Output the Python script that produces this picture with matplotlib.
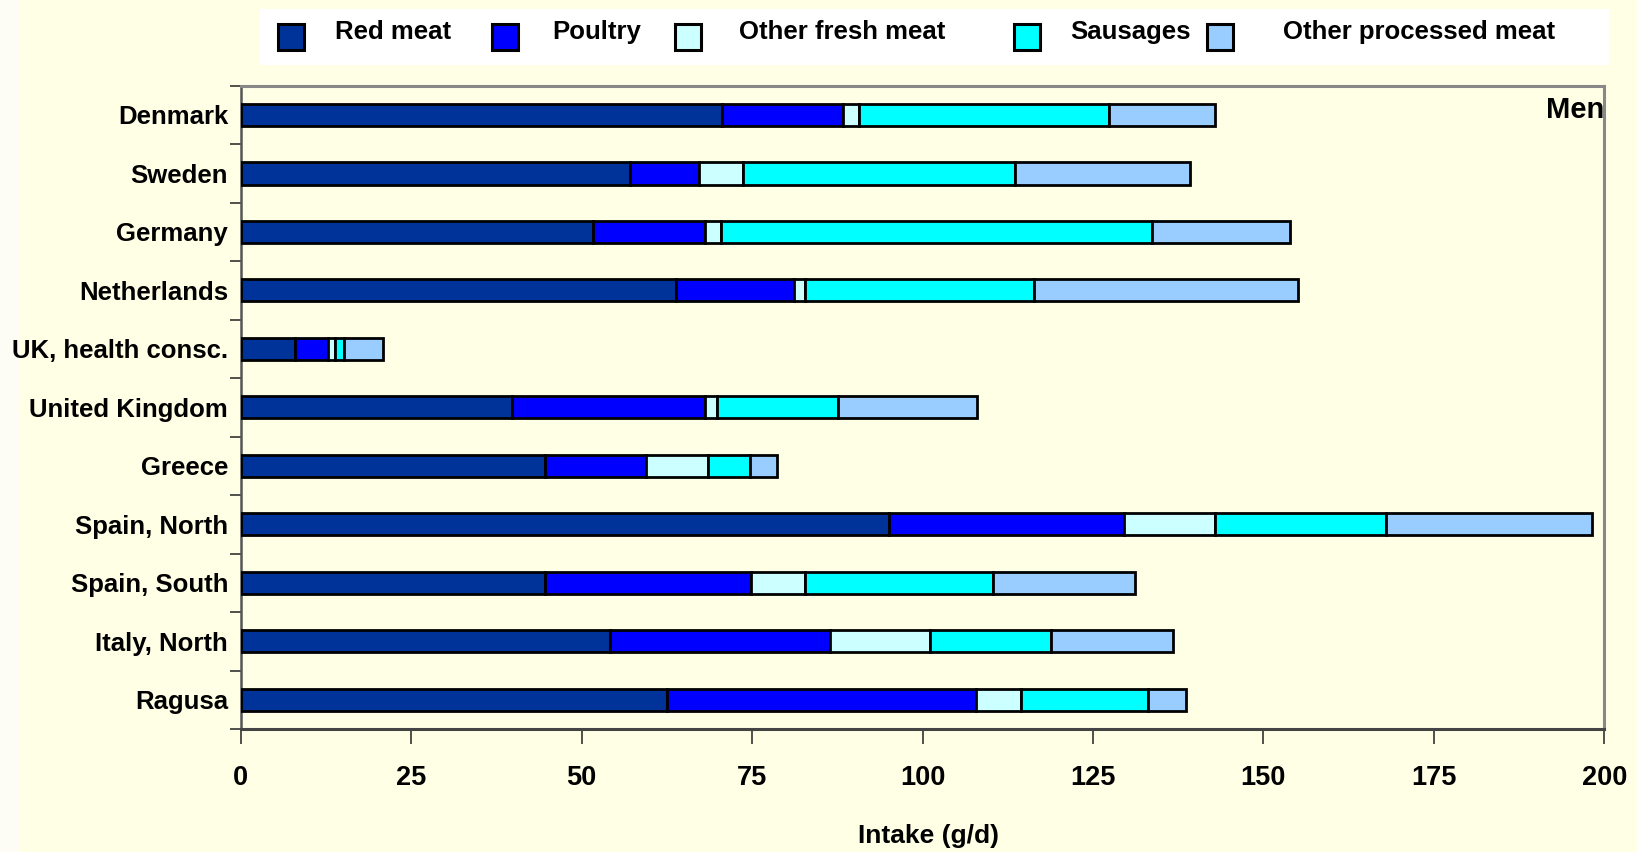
import numpy as np
import matplotlib
matplotlib.use("Agg")
import matplotlib.pyplot as plt
from matplotlib.patches import Rectangle
from matplotlib.ticker import FixedLocator

plt.rcParams['font.family'] = ['Liberation Sans', 'DejaVu Sans']
plt.rcParams['font.weight'] = 'bold'

countries = ["Denmark", "Sweden", "Germany", "Netherlands", "UK, health consc.",
             "United Kingdom", "Greece", "Spain, North", "Spain, South",
             "Italy, North", "Ragusa"]
categories = ["Red meat", "Poultry", "Other fresh meat", "Sausages", "Other processed meat"]

red_meat   = [70.6, 57.1, 51.6, 63.9, 7.9, 39.8, 44.7, 95.1, 44.7, 54.1, 62.5]
poultry    = [17.8, 10.1, 16.5, 17.3, 4.9, 28.3, 14.7, 34.5, 30.2, 32.4, 45.3]
other_fresh = [2.3, 6.5, 2.3, 1.6, 1.0, 1.7, 9.2, 13.3, 7.8, 14.6, 6.7]
sausages   = [36.7, 39.8, 63.3, 33.6, 1.4, 17.8, 6.1, 25.1, 27.6, 17.7, 18.6]
other_proc = [15.5, 25.7, 20.2, 38.7, 5.6, 20.4, 3.9, 30.2, 20.9, 18.0, 5.5]

xticks = [0, 25, 50, 75, 100, 125, 150, 175, 200]

colors = ["#003399", "#0000FF", "#CCFFFF", "#00FFFF", "#99CCFF"]
bg = "#FFFFE6"

W, H = 1637, 852
fig = plt.figure(figsize=(W / 100, H / 100), dpi=100, facecolor=bg)
# whitish strip on the left edge
fig.add_artist(Rectangle((0, 0), 19 / W, 1, transform=fig.transFigure,
                         facecolor="#FDFDF5", edgecolor="none", zorder=0))

ax = fig.add_axes([240.7 / W, 1 - 729 / H, (1604.3 - 240.7) / W, (729 - 85.7) / H])
ax.set_facecolor(bg)

y = np.arange(len(countries))
series = [red_meat, poultry, other_fresh, sausages, other_proc]
left = np.zeros(len(countries))
for vals, col in zip(series, colors):
    ax.barh(y, vals, left=left, height=0.38, color=col, edgecolor="black",
            linewidth=2.0, zorder=3)
    left += np.array(vals)

ax.set_xlim(0, 200)
ax.set_ylim(len(countries) - 0.5, -0.5)

ax.set_xticks(xticks)
ax.set_xticklabels([str(t) for t in xticks], fontsize=19.5, fontweight="bold")
ax.tick_params(axis="x", direction="out", length=11, width=1.2, color="#333333", pad=15)

ax.set_yticks(y)
ax.set_yticklabels(countries, fontsize=18.5, fontweight="bold")
ax.yaxis.set_minor_locator(FixedLocator(np.arange(-0.5, len(countries), 1.0)))
ax.tick_params(axis="y", which="major", length=0, pad=9)
ax.tick_params(axis="y", which="minor", direction="out", length=8, width=1.2, color="#333333")

for s in ["top", "right"]:
    ax.spines[s].set_color("#888888")
    ax.spines[s].set_linewidth(2.2)
ax.spines["left"].set_color("#555555")
ax.spines["left"].set_linewidth(1.8)
ax.spines["bottom"].set_color("#444444")
ax.spines["bottom"].set_linewidth(2.2)

fig.text(928 / W, 1 - 836 / H, "Intake (g/d)", ha="center", va="center",
         fontsize=19, fontweight="bold")
fig.text(1604 / W, 1 - 118 / H, "Men", ha="right", va="baseline",
         fontsize=21, fontweight="bold")

# legend box drawn by hand to match the original spacing
fig.add_artist(Rectangle((260 / W, 1 - 65 / H), (1609 - 260) / W, (65 - 9) / H,
                         transform=fig.transFigure, facecolor="white",
                         edgecolor="none", zorder=1))
marker_x = [291, 505, 688, 1027, 1220]
text_x = [335, 552, 739, 1070, 1283]
for cat, col, mx, tx in zip(categories, colors, marker_x, text_x):
    fig.add_artist(Rectangle(((mx - 13) / W, 1 - 50 / H), 26 / W, 26 / H,
                             transform=fig.transFigure, facecolor=col,
                             edgecolor="black", linewidth=2.2, zorder=2))
    fig.text(tx / W, 1 - 32 / H, cat, ha="left", va="center",
             fontsize=18.5, fontweight="bold", zorder=3)

fig.savefig("out.png", dpi=100, facecolor=bg)
